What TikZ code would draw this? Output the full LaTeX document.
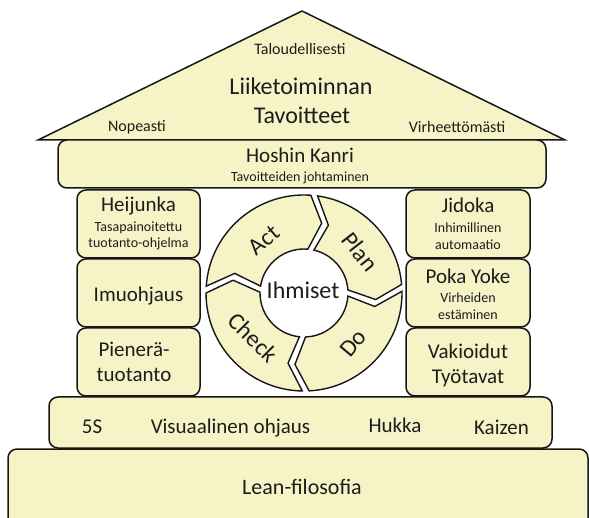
\documentclass[tikz,border=0pt]{standalone}
\usepackage{fontspec}
\setmainfont{Carlito}
\definecolor{fillY}{RGB}{246,244,198}
\definecolor{edge}{RGB}{22,22,22}
\definecolor{ink}{RGB}{28,28,28}
\newcommand{\Rout}{98}
\newcommand{\Rmid}{72}
\newcommand{\Rin}{44}
\newcommand{\gO}{2}
\newcommand{\gM}{2.8}
\newcommand{\gI}{4}
% #1 = trailing gap angle (counter-clockwise end), #2 = leading gap angle (clockwise end)
\newcommand{\pdcaSeg}[2]{%
  \draw[segment] ({#1-\gO}:\Rout) arc[start angle={#1-\gO}, end angle={#2+\gO}, radius=\Rout]
    -- ({#2-11+\gM}:\Rmid) -- ({#2-3+\gI}:\Rin)
    arc[start angle={#2-3+\gI}, end angle={#1-3-\gI}, radius=\Rin]
    -- ({#1-11-\gM}:\Rmid) -- cycle;}
\begin{document}
\begin{tikzpicture}[x=1pt,y=-1pt,
  box/.style={draw=edge, fill=fillY, line width=1.5pt, rounded corners=9pt, inner sep=0pt},
  segment/.style={draw=edge, fill=fillY, line width=1.4pt, line join=miter},
  roofstyle/.style={draw=edge, fill=fillY, line width=1.5pt, line join=miter},
  tA/.style={text=ink, inner sep=0pt, font=\fontsize{24}{28}\selectfont, text height=15.5pt, text depth=0pt},
  tB/.style={text=ink, inner sep=0pt, font=\fontsize{21}{25}\selectfont, text height=13.5pt, text depth=0pt},
  tL/.style={text=ink, inner sep=0pt, font=\fontsize{22}{26}\selectfont, text height=14.2pt, text depth=0pt},
  tC/.style={text=ink, inner sep=0pt, font=\fontsize{16}{19}\selectfont, text height=10.3pt, text depth=0pt},
  tD/.style={text=ink, inner sep=0pt, font=\fontsize{14}{17}\selectfont, text height=9pt, text depth=0pt}]
\useasboundingbox (0,0) rectangle (589,518);

% roof
\coordinate (roofL) at (38,140);
\coordinate (roofT) at (302,11);
\coordinate (roofR) at (565,140);
\draw[roofstyle] (roofL) -- (roofT) -- (roofR) -- cycle;

% boxes
\node[box, minimum width=488pt, minimum height=48pt] (hoshin) at (302,164) {};
\node[box, minimum width=123pt, minimum height=68pt] (heijunka) at (138.5,224) {};
\node[box, minimum width=123pt, minimum height=68pt] (imuohjaus) at (138.5,293) {};
\node[box, minimum width=123pt, minimum height=68pt] (piener) at (138.5,362) {};
\node[box, minimum width=124pt, minimum height=68pt] (jidoka) at (468,224) {};
\node[box, minimum width=124pt, minimum height=68pt] (pokayoke) at (468,293) {};
\node[box, minimum width=124pt, minimum height=68pt] (vakio) at (468,362) {};
\node[box, minimum width=503pt, minimum height=51pt] (fiveS) at (300.5,422.5) {};
\node[box, minimum width=580pt, minimum height=91pt] (lean) at (298,494.5) {};

% PDCA cycle
\begin{scope}[shift={(304,293)}, yscale=-1]
  \pdcaSeg{84}{3}
  \pdcaSeg{3}{-89}
  \pdcaSeg{-89}{-182}
  \pdcaSeg{178}{84}
\end{scope}

% roof texts
\node[tC] (tal) at (300,49) {Taloudellisesti};
\node[tA] (lii) at (301,87) {Liiketoiminnan};
\node[tA] (tav) at (302,116) {Tavoitteet};
\node[tC] (nop) at (137,126) {Nopeasti};
\node[tC] (vir) at (457,127) {Virheettömästi};

% hoshin
\node[tB] (hk) at (300,156) {Hoshin Kanri};
\node[tD] (tj) at (300,177) {Tavoitteiden johtaminen};

% left column
\node[tB] (hei) at (138.5,205) {Heijunka};
\node[tD] (tas) at (138.5,227) {Tasapainoitettu};
\node[tD] (tuo) at (138.5,243) {tuotanto-ohjelma};
\node[tB] (imu) at (138.5,295) {Imuohjaus};
\node[tB] (pie) at (134,350) {Pienerä-};
\node[tB] (tuo2) at (134,375) {tuotanto};

% right column
\node[tB] (jid) at (468,206) {Jidoka};
\node[tD] (inh) at (468,228) {Inhimillinen};
\node[tD] (aut) at (468,245) {automaatio};
\node[tB] (pok) at (468,277) {Poka Yoke};
\node[tD] (vir2) at (468,298) {Virheiden};
\node[tD] (est) at (468,315) {estäminen};
\node[tB] (vak) at (468,352) {Vakioidut};
\node[tB] (tyo) at (468,377) {Työtavat};

% foundation
\node[tB] (s5) at (92,427) {5S};
\node[tB] (vis) at (230.5,427) {Visuaalinen ohjaus};
\node[tB] (huk) at (395,426) {Hukka};
\node[tB] (kai) at (501.5,428) {Kaizen};
\node[tL] (leanT) at (302,487) {Lean-filosofia};

% cycle texts
\node[tA] (ihm) at (303,291) {Ihmiset};
\node[tA, rotate=41] (act) at (264,240) {Act};
\node[tA, rotate=-52] (plan) at (360,252) {Plan};
\node[tA, rotate=50] (do) at (353,343) {Do};
\node[tA, rotate=-45] (check) at (253,338) {Check};
\end{tikzpicture}
\end{document}
